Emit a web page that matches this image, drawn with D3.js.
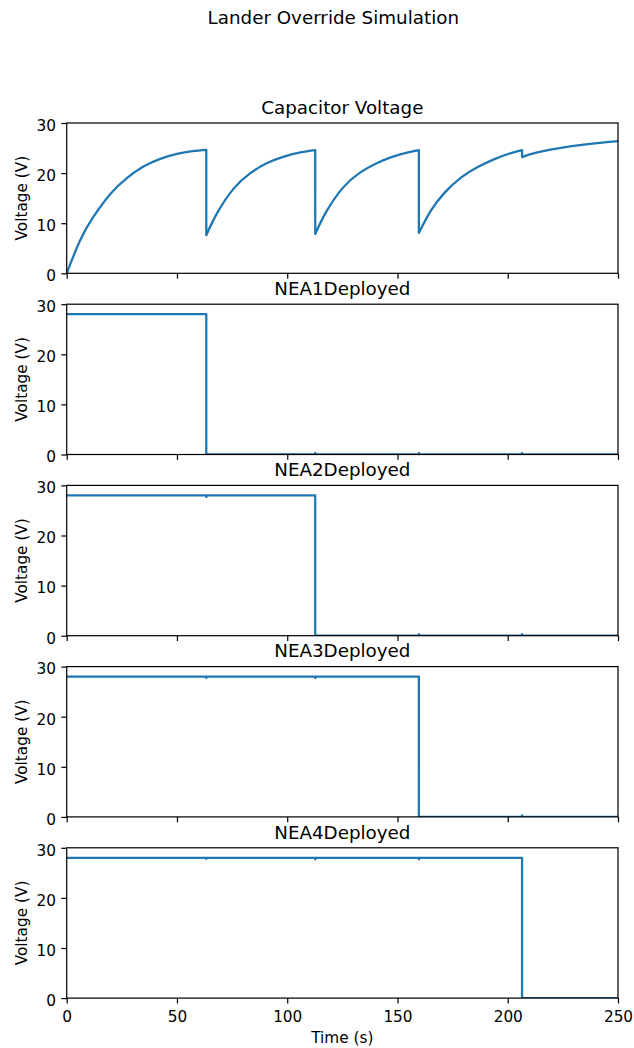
<!DOCTYPE html>
<html>
<head>
<meta charset="utf-8">
<script src="https://cdn.jsdelivr.net/npm/d3@7"></script>
<style>
  html, body { margin: 0; padding: 0; background: #fff; }
  svg { display: block; font-family: "DejaVu Sans", sans-serif; }
</style>
</head>
<body>
<svg id="chart" width="634" height="1048"></svg>
<script>
// Tick values shared by every panel
const timeTicks = [0, 50, 100, 150, 200, 250];
const voltTicks = [0, 10, 20, 30];

const panelTitles = ["Capacitor Voltage", "NEA1Deployed", "NEA2Deployed", "NEA3Deployed", "NEA4Deployed"];

// Capacitor voltage; a repeated time marks a discharge step between charging segments
const capTime = [
  0, 6, 12, 19.7, 27.3, 34.8, 42.4, 50, 57, 63.3,
  63.3, 68.2, 75.7, 83.3, 90.9, 98.5, 106, 112.7,
  112.7, 117.6, 125.1, 132.7, 140.3, 147.9, 155.3, 159.7,
  159.7, 165, 171.2, 178.8, 186.4, 194, 201.5, 206.5,
  206.5, 210, 216.6, 224.2, 231.8, 239.4, 245, 250
];
const capVolts = [
  0, 6.5, 11.2, 15.8, 19.0, 21.3, 22.85, 23.85, 24.4, 24.65,
  7.6, 12.0, 16.9, 20.0, 22.0, 23.3, 24.15, 24.6,
  7.85, 12.2, 17.0, 20.0, 21.9, 23.3, 24.2, 24.6,
  8.05, 12.4, 16.0, 19.1, 21.2, 22.8, 24.0, 24.6,
  23.2, 23.75, 24.45, 25.05, 25.55, 25.95, 26.2, 26.4
];

// Deployment lines (28 V while armed, 0 V once deployed)
const nea1Time  = [0, 63.3, 63.3, 112.7, 112.7, 113.0, 159.7, 159.7, 160.0, 206.5, 206.5, 206.8, 250];
const nea1Volts = [28, 28, 0, 0, 0.3, 0, 0, 0.3, 0, 0, 0.3, 0, 0];
const nea2Time  = [0, 63.3, 63.3, 63.6, 112.7, 112.7, 159.7, 159.7, 160.0, 206.5, 206.5, 206.8, 250];
const nea2Volts = [28, 28, 27.7, 28, 28, 0, 0, 0.3, 0, 0, 0.3, 0, 0];
const nea3Time  = [0, 63.3, 63.3, 63.6, 112.7, 112.7, 113.0, 159.7, 159.7, 206.5, 206.5, 206.8, 250];
const nea3Volts = [28, 28, 27.7, 28, 28, 27.7, 28, 28, 0, 0, 0.3, 0, 0];
const nea4Time  = [0, 63.3, 63.3, 63.6, 112.7, 112.7, 113.0, 159.7, 159.7, 160.0, 206.5, 206.5, 250];
const nea4Volts = [28, 28, 27.8, 28, 28, 27.7, 28, 28, 27.7, 28, 28, 0, 0];

const series = [
  { t: capTime,  v: capVolts, smooth: true },
  { t: nea1Time, v: nea1Volts },
  { t: nea2Time, v: nea2Volts },
  { t: nea3Time, v: nea3Volts },
  { t: nea4Time, v: nea4Volts }
];

// Layout
const left = 66.7, right = 618;
const firstTop = 123, panelH = 150.3, panelStep = 181.2;
const tickLen = 5.35, tickPad = 5.35;
const blue = "#1f77b4";
const fs = 15.3, titleFs = 18.3;

const svg = d3.select("#chart");

svg.append("text")
  .attr("x", 333.3).attr("y", 24.3)
  .attr("text-anchor", "middle")
  .attr("font-size", titleFs)
  .text("Lander Override Simulation");

const x = d3.scaleLinear().domain([0, 250]).range([left, right]);

series.forEach((s, i) => {
  const top = firstTop + i * panelStep;
  const bottom = top + panelH;
  const y = d3.scaleLinear().domain([0, 30]).range([bottom, top]);
  const g = svg.append("g");

  const clipId = "clip" + i;
  svg.append("clipPath").attr("id", clipId)
    .append("rect").attr("x", left).attr("y", top)
    .attr("width", right - left).attr("height", panelH);

  const pts = s.t.map((t, k) => [t, s.v[k]]);
  let d;
  if (s.smooth) {
    // split into charging segments at repeated times, join with straight steps
    const segs = [];
    let cur = [];
    pts.forEach((p, k) => {
      if (k > 0 && p[0] === pts[k - 1][0]) { segs.push(cur); cur = []; }
      cur.push(p);
    });
    segs.push(cur);
    const smoothLine = d3.line().x(p => x(p[0])).y(p => y(p[1])).curve(d3.curveNatural);
    d = segs.map((sg, k) => {
      const str = smoothLine(sg);
      return k === 0 ? str : "L" + str.slice(1);
    }).join("");
  } else {
    d = d3.line().x(p => x(p[0])).y(p => y(p[1]))(pts);
  }

  g.append("path")
    .attr("d", d)
    .attr("fill", "none")
    .attr("stroke", blue)
    .attr("stroke-width", 2.3)
    .attr("stroke-linejoin", "round")
    .attr("stroke-linecap", "square")
    .attr("clip-path", `url(#${clipId})`);

  // frame
  g.append("rect")
    .attr("x", left).attr("y", top)
    .attr("width", right - left).attr("height", panelH)
    .attr("fill", "none").attr("stroke", "#000").attr("stroke-width", 1.22);

  // y axis
  const yAxis = d3.axisLeft(y).tickValues(voltTicks).tickFormat(d3.format("d"))
    .tickSize(tickLen).tickPadding(tickPad);
  const ya = g.append("g").attr("transform", `translate(${left},0)`).call(yAxis);
  ya.select(".domain").remove();
  ya.selectAll("line").attr("stroke-width", 1.22);
  ya.selectAll("text").attr("font-size", fs).attr("font-family", "DejaVu Sans")
    .attr("dy", null).attr("y", 7.3).attr("fill", "#000");

  // x axis
  const xAxis = d3.axisBottom(x).tickValues(timeTicks).tickFormat(d3.format("d"))
    .tickSize(tickLen).tickPadding(tickPad);
  const xa = g.append("g").attr("transform", `translate(0,${bottom})`).call(xAxis);
  xa.select(".domain").remove();
  xa.selectAll("line").attr("stroke-width", 1.22);
  if (i === series.length - 1) {
    xa.selectAll("text").attr("font-size", fs).attr("font-family", "DejaVu Sans")
      .attr("dy", null).attr("y", 24).attr("fill", "#000");
  } else {
    xa.selectAll("text").remove();
  }

  // panel title
  g.append("text")
    .attr("x", (left + right) / 2).attr("y", top - 9.2)
    .attr("text-anchor", "middle")
    .attr("font-size", titleFs)
    .text(panelTitles[i]);

  // y label
  g.append("text")
    .attr("transform", `translate(26.5,${(top + bottom) / 2}) rotate(-90)`)
    .attr("text-anchor", "middle")
    .attr("font-size", fs)
    .text("Voltage (V)");
});

svg.append("text")
  .attr("x", (left + right) / 2).attr("y", 1042.5)
  .attr("text-anchor", "middle")
  .attr("font-size", fs)
  .text("Time (s)");
</script>
</body>
</html>
